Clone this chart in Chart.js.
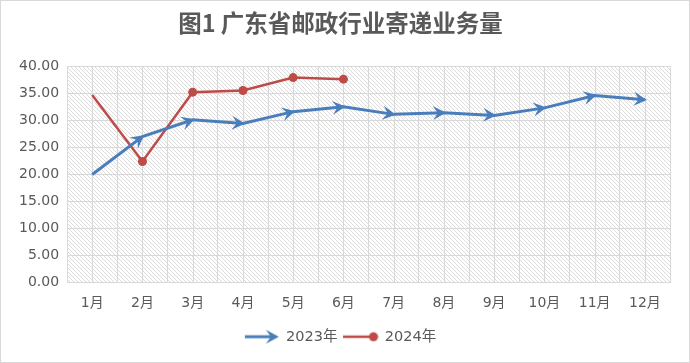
<!DOCTYPE html>
<html>
<head>
<meta charset="utf-8">
<script src="https://cdn.jsdelivr.net/npm/chart.js@4.4.1/dist/chart.umd.min.js"></script>
<style>
  html, body { margin: 0; padding: 0; background: #fff; }
  #wrap { width: 690px; height: 363px; box-sizing: border-box; border: 1px solid #d9d9d9; }
</style>
</head>
<body>
<div id="wrap"><canvas id="chart"></canvas></div>
<script>
const TITLE = "图1 广东省邮政行业寄递业务量";
const MONTHS = ["1月", "2月", "3月", "4月", "5月", "6月", "7月", "8月", "9月", "10月", "11月", "12月"];
const SERIES_NAMES = ["2023年", "2024年"];
const VALUES_2023 = [20.0, 27.0, 30.1, 29.4, 31.6, 32.5, 31.1, 31.4, 30.9, 32.3, 34.6, 33.8];
const VALUES_2024 = [34.7, 22.4, 35.2, 35.5, 37.9, 37.6];
const Y_MIN = 0;
const Y_MAX = 40;
const Y_STEP = 5;

const BLUE = "#4a7ebb";
const RED = "#be4b48";
const TEXT = "#595959";
const GRID = "#d9d9d9";

Chart.defaults.font.family = "'DejaVu Sans', 'Noto Sans CJK SC', sans-serif";
Chart.defaults.color = TEXT;

function arrowHead(ctx, x, y, angle, color) {
  ctx.save();
  ctx.translate(x, y);
  ctx.rotate(angle);
  ctx.beginPath();
  ctx.moveTo(2, 0);
  ctx.lineTo(-11, -7);
  ctx.lineTo(-6, 0);
  ctx.lineTo(-11, 7);
  ctx.closePath();
  ctx.fillStyle = color;
  ctx.fill();
  ctx.restore();
}

// legend symbols
function legendArrow() {
  const c = document.createElement("canvas");
  c.width = 36; c.height = 16;
  const ctx = c.getContext("2d");
  ctx.strokeStyle = BLUE;
  ctx.lineWidth = 3;
  ctx.beginPath(); ctx.moveTo(1, 8); ctx.lineTo(30, 8); ctx.stroke();
  arrowHead(ctx, 33, 8, 0, BLUE);
  return c;
}
function legendDot() {
  const c = document.createElement("canvas");
  c.width = 36; c.height = 12;
  const ctx = c.getContext("2d");
  ctx.strokeStyle = RED;
  ctx.lineWidth = 2.5;
  ctx.beginPath(); ctx.moveTo(0, 6); ctx.lineTo(31, 6); ctx.stroke();
  ctx.fillStyle = RED;
  ctx.beginPath(); ctx.arc(31, 6, 4.5, 0, Math.PI * 2); ctx.fill();
  return c;
}
const LEGEND_SYMBOLS = [legendArrow(), legendDot()];

function hatchPattern(ctx) {
  const p = document.createElement("canvas");
  p.width = 4; p.height = 4;
  const g = p.getContext("2d");
  g.fillStyle = "#dcdcdc";
  for (let i = 0; i < 4; i++) g.fillRect(i, i, 1, 1);
  return ctx.createPattern(p, "repeat");
}

const plotDecor = {
  id: "plotDecor",
  beforeDraw(chart) {
    const { ctx, chartArea: a } = chart;
    ctx.save();
    ctx.fillStyle = hatchPattern(ctx);
    ctx.fillRect(a.left, a.top, a.right - a.left, a.bottom - a.top);
    ctx.restore();
  },
  beforeDatasetsDraw(chart) {
    // extra vertical lines through each category centre
    const { ctx, chartArea: a, scales: { x } } = chart;
    ctx.save();
    ctx.strokeStyle = GRID;
    ctx.lineWidth = 1;
    ctx.beginPath();
    MONTHS.forEach((m, i) => {
      const px = Math.round(x.getPixelForTick(i)) + 0.5;
      ctx.moveTo(px, a.top);
      ctx.lineTo(px, a.bottom);
    });
    ctx.stroke();
    ctx.restore();
  },
  afterDatasetsDraw(chart) {
    const pts = chart.getDatasetMeta(0).data;
    for (let i = 1; i < pts.length; i++) {
      const angle = Math.atan2(pts[i].y - pts[i - 1].y, pts[i].x - pts[i - 1].x);
      arrowHead(chart.ctx, pts[i].x, pts[i].y, angle, BLUE);
    }
  }
};

new Chart(document.getElementById("chart"), {
  type: "line",
  data: {
    labels: MONTHS,
    datasets: [
      {
        label: SERIES_NAMES[0],
        data: VALUES_2023,
        borderColor: BLUE,
        backgroundColor: BLUE,
        borderWidth: 3,
        pointRadius: 0
      },
      {
        label: SERIES_NAMES[1],
        data: VALUES_2024,
        borderColor: RED,
        backgroundColor: RED,
        borderWidth: 2.5,
        pointStyle: "circle",
        pointRadius: (c) => (c.dataIndex === 0 ? 0 : 4.5),
        pointBorderWidth: 0
      }
    ]
  },
  options: {
    responsive: true,
    maintainAspectRatio: false,
    animation: false,
    layout: { padding: { left: 10, right: 19, top: 8, bottom: 8 } },
    plugins: {
      title: {
        display: true,
        text: TITLE,
        color: TEXT,
        font: { size: 23.5, weight: "bold", family: "'Noto Sans CJK SC', sans-serif" },
        padding: { top: 0, bottom: 29 }
      },
      legend: {
        position: "bottom",
        labels: {
          usePointStyle: true,
          pointStyleWidth: 34,
          boxHeight: 14,
          padding: 6,
          color: TEXT,
          font: { size: 14.5 },
          generateLabels(chart) {
            return chart.data.datasets.map((ds, i) => ({
              text: ds.label,
              fontColor: TEXT,
              pointStyle: LEGEND_SYMBOLS[i],
              datasetIndex: i,
              lineWidth: 0,
              strokeStyle: "transparent",
              fillStyle: "transparent"
            }));
          }
        }
      },
      tooltip: { enabled: false }
    },
    scales: {
      x: {
        offset: true,
        grid: { color: GRID, offset: true, drawTicks: false },
        border: { color: GRID },
        ticks: { color: TEXT, font: { size: 14 }, padding: 12 }
      },
      y: {
        min: Y_MIN,
        max: Y_MAX,
        grid: { color: GRID, drawTicks: false },
        border: { display: false },
        ticks: {
          stepSize: Y_STEP,
          color: TEXT,
          font: { size: 14 },
          padding: 8,
          callback: (v) => v.toFixed(2)
        }
      }
    }
  },
  plugins: [plotDecor]
});
</script>
</body>
</html>
